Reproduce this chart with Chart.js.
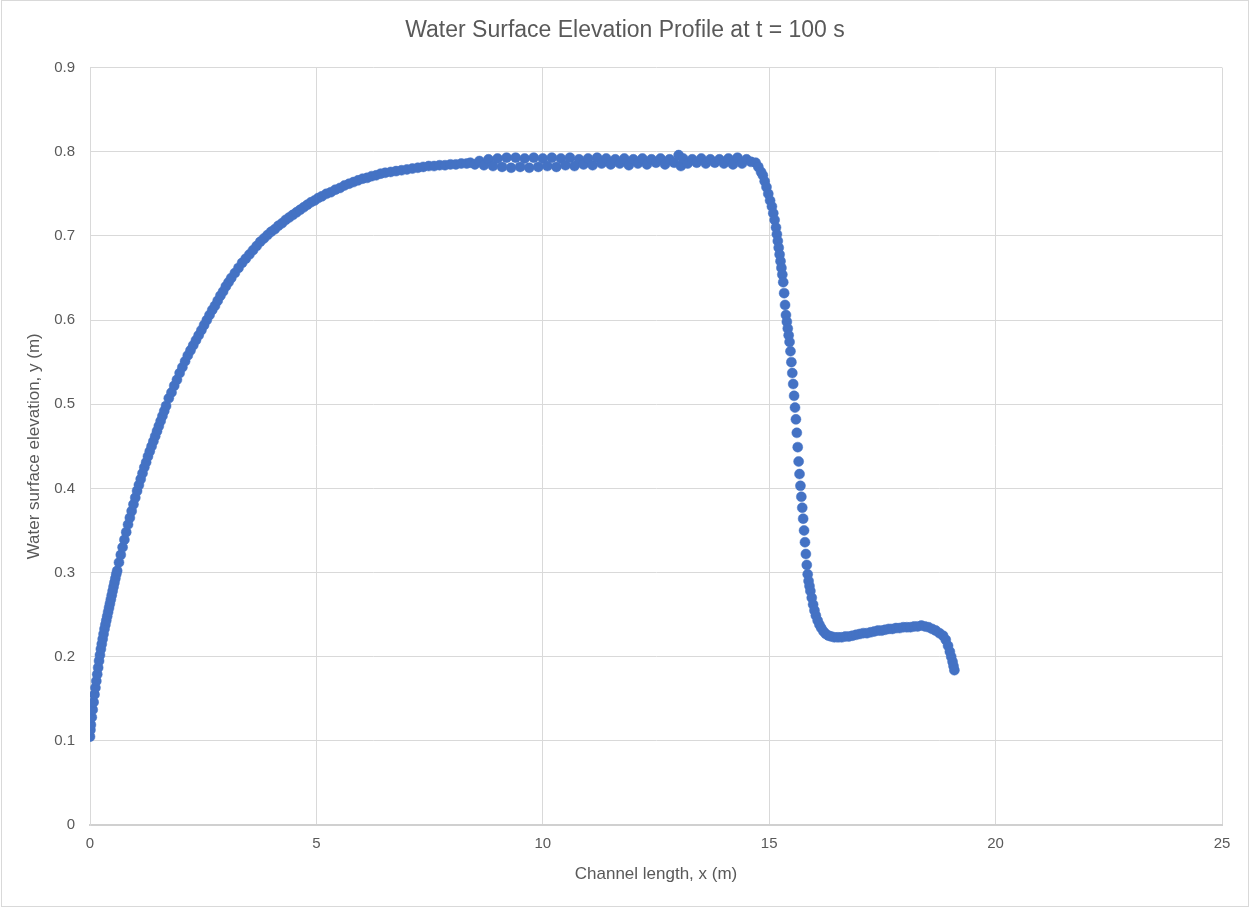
<!DOCTYPE html>
<html>
<head>
<meta charset="utf-8">
<title>Water Surface Elevation Profile</title>
<script src="https://cdn.jsdelivr.net/npm/chart.js@4.4.1/dist/chart.umd.min.js"></script>
<style>
  html, body { margin: 0; padding: 0; background: #ffffff; }
  #wrap { width: 1250px; height: 909px; }
</style>
</head>
<body>
<div id="wrap"><canvas id="chart" width="1250" height="909"></canvas></div>
<script>
// values, x in m, y in m
const riseX = [0.00, 0.01, 0.02, 0.04, 0.06, 0.08, 0.10, 0.12, 0.14, 0.16, 0.18, 0.20, 0.22, 0.24, 0.26, 0.28, 0.30, 0.32, 0.34, 0.36, 0.38, 0.40, 0.42, 0.44, 0.46, 0.48, 0.50, 0.52, 0.54, 0.56, 0.58, 0.60,
  0.64, 0.68, 0.72, 0.76, 0.80, 0.84, 0.88, 0.92, 0.96, 1.00, 1.04, 1.08, 1.12, 1.16, 1.20, 1.24, 1.28, 1.32, 1.36, 1.40, 1.44, 1.48, 1.52, 1.56, 1.60, 1.64, 1.68,
  1.74, 1.80, 1.86, 1.92, 1.98, 2.04, 2.10, 2.16, 2.22, 2.28, 2.34, 2.40, 2.46, 2.52, 2.58, 2.64, 2.70, 2.76, 2.82, 2.88, 2.94, 3.00, 3.06, 3.12,
  3.20, 3.28, 3.36, 3.44, 3.52, 3.60, 3.68, 3.76, 3.84, 3.92, 4.00, 4.08, 4.16, 4.24, 4.32, 4.40, 4.48, 4.56, 4.64, 4.72, 4.80, 4.88, 4.96, 5.04, 5.12,
  5.22, 5.32, 5.42, 5.52, 5.62, 5.72, 5.82, 5.92, 6.02, 6.12, 6.22, 6.32, 6.42, 6.52, 6.64, 6.76, 6.88, 7.00, 7.12, 7.24, 7.36, 7.48, 7.60, 7.72, 7.84, 7.96, 8.08, 8.20, 8.32];
const riseY = [0.105, 0.113, 0.119, 0.128, 0.137, 0.146, 0.155, 0.163, 0.171, 0.179, 0.187, 0.195, 0.202, 0.209, 0.215, 0.221, 0.227, 0.233, 0.238, 0.243, 0.248, 0.253, 0.258, 0.263, 0.268, 0.273, 0.278, 0.283, 0.288, 0.293, 0.298, 0.302,
  0.312, 0.321, 0.330, 0.339, 0.348, 0.357, 0.365, 0.373, 0.381, 0.389, 0.397, 0.404, 0.411, 0.418, 0.425, 0.431, 0.438, 0.444, 0.450, 0.456, 0.462, 0.468, 0.474, 0.480, 0.486, 0.492, 0.498,
  0.507, 0.514, 0.522, 0.529, 0.537, 0.544, 0.551, 0.558, 0.564, 0.570, 0.576, 0.582, 0.588, 0.594, 0.600, 0.606, 0.612, 0.617, 0.623, 0.629, 0.634, 0.640, 0.645, 0.650,
  0.656, 0.662, 0.668, 0.673, 0.678, 0.683, 0.688, 0.693, 0.697, 0.701, 0.705, 0.708, 0.712, 0.715, 0.719, 0.722, 0.725, 0.728, 0.731, 0.734, 0.737, 0.740, 0.742, 0.745, 0.747,
  0.750, 0.752, 0.755, 0.757, 0.760, 0.762, 0.764, 0.766, 0.768, 0.769, 0.771, 0.772, 0.774, 0.775, 0.776, 0.777, 0.778, 0.779, 0.780, 0.781, 0.782, 0.783, 0.783, 0.784, 0.784, 0.785, 0.785, 0.786, 0.786];

const plateauX = [8.40, 8.50, 8.60, 8.70, 8.80, 8.90, 9.00, 9.10, 9.20, 9.30, 9.40, 9.50, 9.60, 9.70, 9.80, 9.90, 10.00, 10.10, 10.20, 10.30, 10.40, 10.50, 10.60, 10.70, 10.80, 10.90,
  11.00, 11.10, 11.20, 11.30, 11.40, 11.50, 11.60, 11.70, 11.80, 11.90, 12.00, 12.10, 12.20, 12.30, 12.40, 12.50, 12.60, 12.70, 12.80, 12.90, 13.00, 13.05, 13.10, 13.20,
  13.30, 13.40, 13.50, 13.60, 13.70, 13.80, 13.90, 14.00, 14.10, 14.20, 14.30, 14.40, 14.50, 14.60, 14.70, 14.76, 14.82];
const plateauY = [0.787, 0.785, 0.789, 0.784, 0.791, 0.783, 0.792, 0.782, 0.793, 0.781, 0.793, 0.782, 0.792, 0.781, 0.793, 0.782, 0.792, 0.783, 0.793, 0.782, 0.792, 0.784, 0.793, 0.783, 0.791, 0.785,
  0.792, 0.784, 0.793, 0.786, 0.792, 0.785, 0.791, 0.786, 0.792, 0.784, 0.791, 0.786, 0.792, 0.785, 0.791, 0.787, 0.792, 0.785, 0.791, 0.787, 0.796, 0.783, 0.792, 0.786,
  0.791, 0.787, 0.792, 0.786, 0.791, 0.787, 0.791, 0.786, 0.792, 0.785, 0.793, 0.786, 0.791, 0.788, 0.787, 0.782, 0.776];

const dropX = [14.86, 14.90, 14.94, 14.98, 15.02, 15.06, 15.09, 15.12, 15.15, 15.17, 15.19, 15.21, 15.23, 15.25, 15.27, 15.29, 15.31, 15.33, 15.35, 15.37, 15.39, 15.41, 15.43, 15.45,
  15.47, 15.49, 15.51, 15.53, 15.55, 15.57, 15.59, 15.61, 15.63, 15.65, 15.67, 15.69, 15.71, 15.73, 15.75, 15.77, 15.79, 15.81, 15.83, 15.85, 15.87, 15.89, 15.91, 15.94,
  15.97, 16.00, 16.03, 16.07, 16.11, 16.15, 16.20, 16.25, 16.31];
const dropY = [0.772, 0.765, 0.758, 0.750, 0.742, 0.735, 0.727, 0.719, 0.710, 0.702, 0.694, 0.686, 0.678, 0.670, 0.662, 0.654, 0.645, 0.632, 0.618, 0.606, 0.598, 0.590, 0.582, 0.574,
  0.563, 0.550, 0.537, 0.524, 0.510, 0.496, 0.482, 0.466, 0.449, 0.432, 0.417, 0.403, 0.390, 0.377, 0.364, 0.350, 0.336, 0.322, 0.309, 0.298, 0.290, 0.284, 0.278, 0.270,
  0.262, 0.255, 0.249, 0.243, 0.238, 0.234, 0.230, 0.227, 0.225];

const tailX = [16.37, 16.44, 16.52, 16.60, 16.68, 16.76, 16.84, 16.92, 17.00, 17.08, 17.16, 17.24, 17.32, 17.40, 17.48, 17.56, 17.64, 17.72, 17.80, 17.88, 17.96, 18.04, 18.12,
  18.20, 18.28, 18.36, 18.44, 18.52, 18.60, 18.68, 18.76, 18.84, 18.90, 18.95, 18.99, 19.02, 19.05, 19.07, 19.09];
const tailY = [0.224, 0.223, 0.223, 0.223, 0.224, 0.224, 0.225, 0.226, 0.227, 0.228, 0.228, 0.229, 0.230, 0.231, 0.231, 0.232, 0.233, 0.233, 0.234, 0.234, 0.235, 0.235, 0.235,
  0.236, 0.236, 0.237, 0.236, 0.235, 0.233, 0.231, 0.228, 0.225, 0.220, 0.213, 0.206, 0.200, 0.194, 0.189, 0.184];

const xTicks = [0, 5, 10, 15, 20, 25];
const yTicks = [0, 0.1, 0.2, 0.3, 0.4, 0.5, 0.6, 0.7, 0.8, 0.9];

const allX = riseX.concat(plateauX, dropX, tailX);
const allY = riseY.concat(plateauY, dropY, tailY);
const points = allX.map((x, i) => ({ x: x, y: allY[i] }));

const FONT = "'Liberation Sans', Arial, sans-serif";
const TEXT = '#595959';

// thin grey frame round the whole picture
const frame = {
  id: 'frame',
  afterDraw(chart) {
    const c = chart.ctx;
    c.save();
    c.strokeStyle = '#d9d9d9';
    c.lineWidth = 1;
    c.strokeRect(1.5, 0.5, chart.width - 3, chart.height - 3);
    c.restore();
  }
};

new Chart(document.getElementById('chart'), {
  type: 'scatter',
  data: {
    datasets: [{
      label: 'Water surface',
      data: points,
      backgroundColor: '#4472C4',
      borderColor: '#4472C4',
      borderWidth: 0.5,
      pointRadius: 5,
      pointHoverRadius: 5
    }]
  },
  options: {
    responsive: false,
    animation: false,
    layout: { padding: { left: 28, right: 28, top: 0, bottom: 0 } },
    plugins: {
      legend: { display: false },
      tooltip: { enabled: false },
      title: {
        display: true,
        text: 'Water Surface Elevation Profile at t = 100 s',
        color: TEXT,
        font: { family: FONT, size: 23, weight: 'normal' },
        padding: { top: 17, bottom: 23 }
      }
    },
    scales: {
      x: {
        type: 'linear',
        min: 0,
        max: 25,
        afterFit(s) { s.height = 84; },
        afterBuildTicks(s) { s.ticks = xTicks.map(v => ({ value: v })); },
        grid: { color: '#d9d9d9', lineWidth: 1, drawTicks: false },
        border: { color: '#d0d0d0', width: 2 },
        ticks: { color: TEXT, font: { family: FONT, size: 15 }, padding: 10, maxRotation: 0 },
        title: {
          display: true,
          text: 'Channel length, x (m)',
          color: TEXT,
          font: { family: FONT, size: 17 },
          padding: { top: 0, bottom: 24 }
        }
      },
      y: {
        type: 'linear',
        min: 0,
        max: 0.9,
        afterFit(s) { s.width = 62; },
        afterBuildTicks(s) { s.ticks = yTicks.map(v => ({ value: v })); },
        grid: { color: '#d9d9d9', lineWidth: 1, drawTicks: false },
        border: { color: '#d9d9d9', width: 1 },
        ticks: {
          color: TEXT,
          font: { family: FONT, size: 15 },
          padding: 15,
          callback: v => String(Math.round(v * 10) / 10)
        },
        title: {
          display: true,
          text: 'Water surface elevation, y (m)',
          color: TEXT,
          font: { family: FONT, size: 17 },
          padding: { top: -4, bottom: 0 }
        }
      }
    }
  },
  plugins: [frame]
});
</script>
</body>
</html>
